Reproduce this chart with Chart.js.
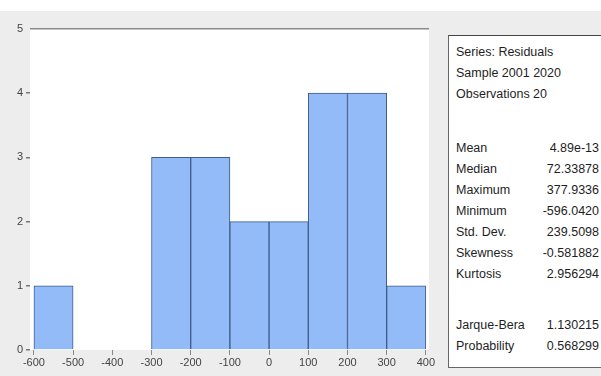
<!DOCTYPE html>
<html>
<head>
<meta charset="utf-8">
<script src="https://cdn.jsdelivr.net/npm/chart.js@4.4.1/dist/chart.umd.min.js"></script>
<style>
  html, body { margin: 0; padding: 0; background: #ffffff; }
  #page { position: relative; width: 601px; height: 376px; overflow: hidden; background: #ffffff; }
  #panel { position: absolute; left: 0; top: 11px; width: 601px; height: 365px; background: #ededed; }
  #wrap { position: absolute; left: 0; top: 11px; width: 445px; height: 365px; }
  #stats { position: absolute; left: 448px; top: 35px; width: 170px; height: 333px;
           background: #ffffff; border-top: 1px solid #444; border-left: 1px solid #666;
           border-bottom: 1px solid #666; box-sizing: border-box;
           font-family: "Liberation Sans Narrow", "Arial Narrow", "Liberation Sans", sans-serif;
           font-size: 12.5px; color: #1e1e1e; }
  .row { position: absolute; left: 7px; width: 143px; height: 16px; line-height: 16px; }
  .row .v { position: absolute; right: 0; top: 0; }
</style>
</head>
<body>
<div id="page">
  <div id="panel"></div>
  <div id="wrap"><canvas id="hist" width="445" height="365"></canvas></div>
  <div id="stats"></div>
</div>
<script>
// Histogram bins of the residuals (bin centres, width 100) and their counts
const binCenters = [-550, -450, -350, -250, -150, -50, 50, 150, 250, 350];
const binCounts  = [1, 0, 0, 3, 3, 2, 2, 4, 4, 1];

// Axis tick values
const xTicks = [-600, -500, -400, -300, -200, -100, 0, 100, 200, 300, 400];
const yTicks = [0, 1, 2, 3, 4, 5];

// Descriptive statistics shown beside the histogram
const headerLines = ["Series: Residuals", "Sample 2001 2020", "Observations 20"];
const statNames  = ["Mean", "Median", "Maximum", "Minimum", "Std. Dev.", "Skewness", "Kurtosis"];
const statValues = ["4.89e-13", "72.33878", "377.9336", "-596.0420", "239.5098", "-0.581882", "2.956294"];
const testNames  = ["Jarque-Bera", "Probability"];
const testValues = ["1.130215", "0.568299"];

// Build the statistics box
const box = document.getElementById("stats");
function addRow(top, name, value) {
  const r = document.createElement("div");
  r.className = "row";
  r.style.top = top + "px";
  r.textContent = name;
  if (value !== undefined) {
    const v = document.createElement("span");
    v.className = "v";
    v.textContent = value;
    r.appendChild(v);
  }
  box.appendChild(r);
}
headerLines.forEach((t, i) => addRow(8 + i * 21, t));
statNames.forEach((t, i) => addRow(104 + i * 21, t, statValues[i]));
testNames.forEach((t, i) => addRow(281 + i * 21, t, testValues[i]));

// White plotting area behind the bars
const plotBackground = {
  id: "plotBackground",
  beforeDraw(chart) {
    const { ctx, chartArea: a } = chart;
    ctx.save();
    ctx.fillStyle = "#ffffff";
    ctx.fillRect(a.left, a.top, a.right - a.left, a.bottom - a.top);
    ctx.restore();
  }
};

const tickFont = { family: "'Liberation Sans Narrow', 'Arial Narrow', 'Liberation Sans', sans-serif", size: 11 };

new Chart(document.getElementById("hist"), {
  type: "bar",
  data: {
    datasets: [{
      data: binCenters.map((c, i) => ({ x: c, y: binCounts[i] })),
      backgroundColor: "#93bbf8",
      borderColor: "#3f5c8c",
      borderWidth: 1,
      barPercentage: 1,
      categoryPercentage: 1,
      borderSkipped: "start"
    }]
  },
  options: {
    responsive: false,
    animation: false,
    devicePixelRatio: 1,
    layout: { padding: { top: 18, right: 16, left: 0, bottom: 0 } },
    plugins: { legend: { display: false }, tooltip: { enabled: false } },
    scales: {
      x: {
        type: "linear",
        offset: false,
        min: -610,
        max: 408,
        afterBuildTicks(axis) { axis.ticks = xTicks.map(v => ({ value: v })); },
        afterFit(axis) { axis.height = 26; },
        grid: { drawOnChartArea: false, offset: false, tickLength: 5, tickColor: "#888" },
        border: { display: false },
        ticks: { font: tickFont, color: "#444", padding: 1, maxRotation: 0, autoSkip: false }
      },
      y: {
        min: 0,
        max: 5,
        afterBuildTicks(axis) { axis.ticks = yTicks.map(v => ({ value: v })); },
        afterFit(axis) { axis.width = 30; },
        grid: {
          color: ctx => (ctx.tick && ctx.tick.value === 5 ? "#8a8a8a" : "rgba(0,0,0,0)"),
          lineWidth: 1.5,
          tickLength: 4,
          tickColor: ctx => (ctx.tick && ctx.tick.value === 5 ? "rgba(0,0,0,0)" : "#777")
        },
        border: { display: false },
        ticks: { font: tickFont, color: "#444", padding: 3 }
      }
    }
  },
  plugins: [plotBackground]
});
</script>
</body>
</html>
